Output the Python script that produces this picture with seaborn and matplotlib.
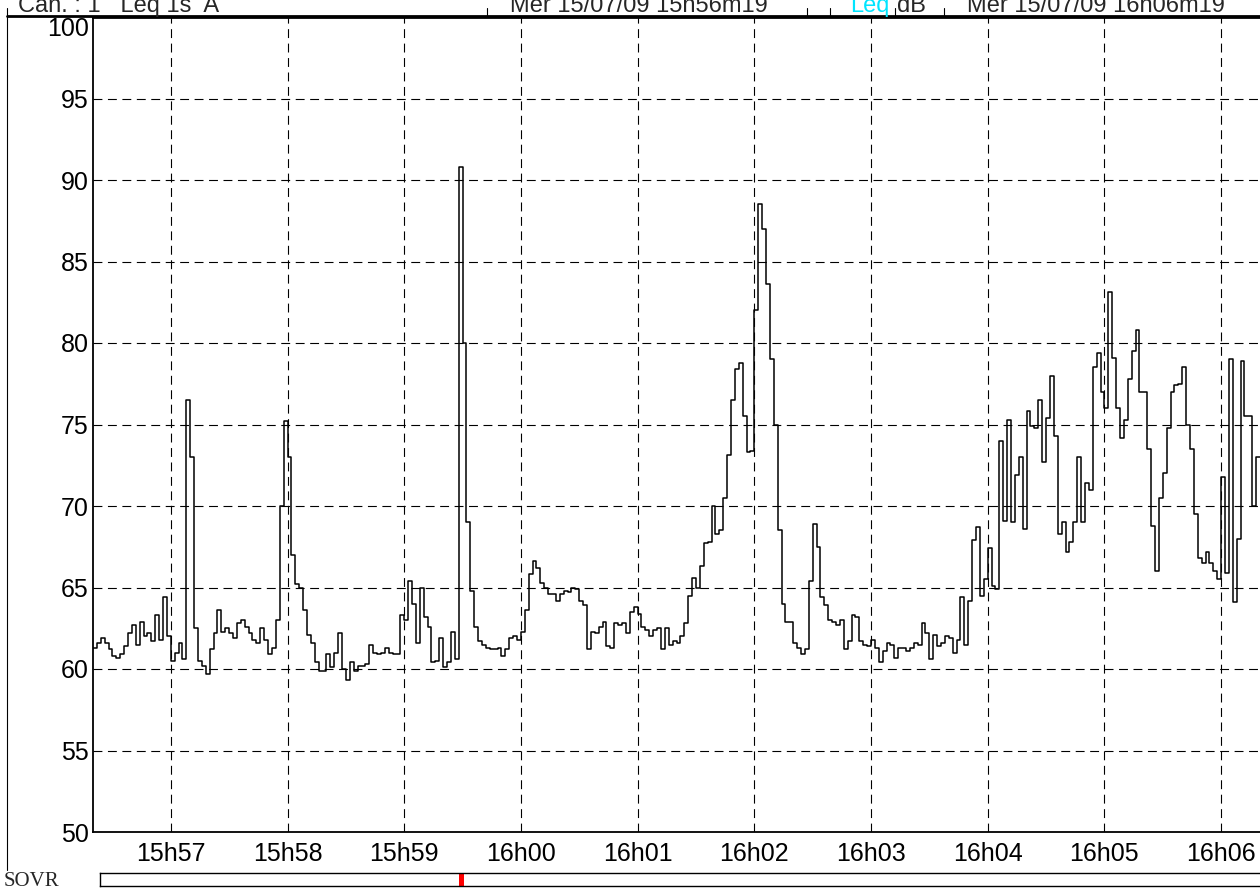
import numpy as np
import pandas as pd
import matplotlib
matplotlib.use("Agg")
import matplotlib.pyplot as plt
import matplotlib.dates as mdates
from matplotlib.lines import Line2D
import seaborn as sns

# --- data: Leq 1s A (dB), one value per 2 s from 15h56m20 ---
start_time = "2009-07-15 15:56:20"
step_seconds = 2
leq_db = [
    61.3, 61.6, 61.9, 61.6, 61.2, 60.8, 60.7, 60.9, 61.4, 62.2,
    62.7, 61.5, 62.9, 62.0, 62.2, 61.7, 63.3, 61.8, 64.4, 62.0,
    60.5, 61.0, 61.6, 60.6, 76.5, 73.0, 62.5, 60.5, 60.2, 59.7,
    61.2, 62.2, 63.6, 62.3, 62.5, 62.2, 61.9, 62.8, 63.0, 62.6,
    62.2, 61.8, 61.6, 62.5, 61.8, 60.9, 61.3, 63.0, 70.0, 75.2,
    73.0, 67.0, 65.2, 65.0, 63.6, 62.1, 61.6, 60.4, 59.9, 59.9,
    60.9, 60.1, 61.0, 62.2, 60.0, 59.3, 60.4, 59.9, 60.2, 60.2,
    60.3, 61.5, 61.0, 60.9, 61.0, 61.3, 61.0, 60.9, 60.9, 63.3,
    63.0, 65.4, 64.0, 61.6, 65.0, 63.2, 62.6, 60.4, 60.5, 61.9,
    60.1, 60.4, 62.3, 60.6, 90.8, 80.0, 69.0, 64.8, 62.6, 61.7,
    61.5, 61.3, 61.2, 61.2, 61.3, 60.8, 61.2, 61.9, 62.0, 61.8,
    62.3, 63.6, 65.8, 66.6, 66.2, 65.3, 65.0, 64.6, 64.6, 64.2,
    64.6, 64.8, 64.7, 65.0, 64.9, 64.2, 63.9, 61.2, 62.3, 62.2,
    62.6, 62.9, 61.4, 61.3, 62.8, 62.7, 62.8, 62.2, 63.5, 63.8,
    63.4, 62.6, 62.4, 62.0, 62.4, 62.5, 61.2, 62.5, 61.5, 61.7,
    61.6, 62.0, 62.8, 64.5, 65.6, 65.0, 66.3, 67.7, 67.8, 70.0,
    68.3, 68.5, 70.5, 73.1, 76.5, 78.4, 78.8, 75.5, 73.3, 73.4,
    82.0, 88.5, 87.0, 83.6, 79.0, 75.0, 68.5, 64.0, 62.9, 62.9,
    61.6, 61.3, 60.9, 61.2, 65.4, 68.9, 67.5, 64.4, 63.9, 63.0,
    62.9, 62.7, 63.0, 61.2, 61.7, 63.3, 63.2, 61.7, 61.5, 61.4,
    61.8, 61.3, 60.4, 61.1, 61.6, 61.5, 60.7, 61.3, 61.3, 61.1,
    61.3, 61.6, 61.5, 62.8, 62.2, 60.6, 62.1, 61.4, 61.6, 62.0,
    61.9, 61.0, 61.8, 64.4, 61.5, 64.2, 67.9, 68.7, 64.5, 65.5,
    67.4, 65.1, 64.9, 74.0, 69.1, 75.3, 69.0, 71.9, 73.0, 68.6,
    75.8, 74.9, 74.8, 76.5, 72.7, 75.4, 78.0, 74.3, 68.3, 69.0,
    67.2, 67.8, 69.0, 73.0, 69.0, 71.4, 71.0, 78.5, 79.4, 77.0,
    76.0, 83.1, 79.1, 76.0, 74.2, 75.3, 77.8, 79.5, 80.8, 77.0,
    77.0, 73.5, 68.8, 66.0, 70.5, 72.0, 74.8, 77.0, 77.4, 77.5,
    78.5, 75.0, 73.5, 69.5, 66.8, 66.5, 67.2, 66.5, 66.0, 65.5,
    71.8, 65.9, 79.0, 64.1, 68.0, 78.9, 75.5, 75.5, 70.0, 73.0,
]
y_ticks = [50, 55, 60, 65, 70, 75, 80, 85, 90, 95, 100]
overload_db = 90  # SOVR flag threshold

header_left = "Can. : 1   Leq 1s  A"
header_mid = "Mer 15/07/09 15h56m19"
header_unit = "Leq"
header_db = "dB"
header_right = "Mer 15/07/09 16h06m19"

W, H = 1260, 892


def fx(px):
    return px / W


def fy(py):
    return 1 - py / H


sns.set_theme(style="white")
plt.rcParams["font.family"] = ["Liberation Sans", "DejaVu Sans"]

times = pd.date_range(start_time, periods=len(leq_db) + 1, freq=f"{step_seconds}s")
df = pd.DataFrame({"time": times, "leq": leq_db + [leq_db[-1]]})

fig = plt.figure(figsize=(W / 100, H / 100), dpi=100)
fig.patch.set_facecolor("white")

# --- main level chart ---
ax = fig.add_axes([fx(93), fy(832), 1 - fx(93), fy(17) - fy(832)])
sns.lineplot(data=df, x="time", y="leq", drawstyle="steps-post",
             color="black", lw=1.1, ax=ax)
ax.set_xlim(times[0], times[-1])
ax.set_ylim(50, 100)
ax.set_yticks(y_ticks)
ax.xaxis.set_major_locator(mdates.MinuteLocator())
ax.xaxis.set_major_formatter(mdates.DateFormatter("%Hh%M"))
ax.grid(True, color="black", ls=(0, (8, 5)), lw=0.8)
ax.tick_params(labelsize=18, length=0, colors="black")
ax.tick_params(axis="x", pad=7)
ax.tick_params(axis="y", pad=3)
ax.set_xlabel("")
ax.set_ylabel("")
ax.spines["right"].set_visible(False)
for side in ["left", "bottom"]:
    ax.spines[side].set_color("black")
    ax.spines[side].set_linewidth(1.3)
ax.spines["top"].set_color("black")
ax.spines["top"].set_linewidth(2)

# top label sits just under the header line
fig.canvas.draw()
for lab in ax.get_yticklabels():
    if lab.get_text() == "100":
        lab.set_verticalalignment("top")

# --- header strip (cut off at the top of the picture) ---
fig.add_artist(Line2D([fx(7), 1], [fy(16), fy(16)], color="black", lw=2,
                      transform=fig.transFigure))
for xs in [7, 487, 807, 830, 895, 944]:
    fig.add_artist(Line2D([fx(xs), fx(xs)], [fy(8), fy(16)], color="black",
                          lw=0.8, transform=fig.transFigure))
fig.add_artist(Line2D([fx(7), fx(7)], [fy(16), fy(870)], color="black",
                      lw=0.8, transform=fig.transFigure))
base = fy(12)
fig.text(fx(18), base, header_left, fontsize=17, va="baseline")
fig.text(fx(510), base, header_mid, fontsize=17, va="baseline")
fig.text(fx(850), base, header_unit, fontsize=17, va="baseline", color="#00e5ff")
fig.text(fx(897), base, header_db, fontsize=17, va="baseline")
fig.text(fx(967), base, header_right, fontsize=17, va="baseline")

# --- SOVR overload bar, same time scale as the chart above ---
bar_left_px, bar_right_px = 100, W + 10
bar = fig.add_axes([fx(bar_left_px), fy(886), fx(bar_right_px) - fx(bar_left_px),
                    fy(873) - fy(886)])
inv = ax.transData.inverted()
bar.set_xlim(inv.transform((bar_left_px, 0))[0], inv.transform((bar_right_px, 0))[0])
bar.set_ylim(0, 1)
bar.set_xticks([])
bar.set_yticks([])
for side in bar.spines.values():
    side.set_color("black")
    side.set_linewidth(1)
for t0, t1, v in zip(times[:-1], times[1:], leq_db):
    if v > overload_db:
        bar.axvspan(mdates.date2num(t0), mdates.date2num(t1) + 1 / 86400,
                    color="red", lw=0)
fig.text(fx(4), fy(886), "SOVR", fontsize=15, va="baseline",
         family=["Liberation Serif", "DejaVu Serif"])

fig.savefig("out.png", dpi=100)
